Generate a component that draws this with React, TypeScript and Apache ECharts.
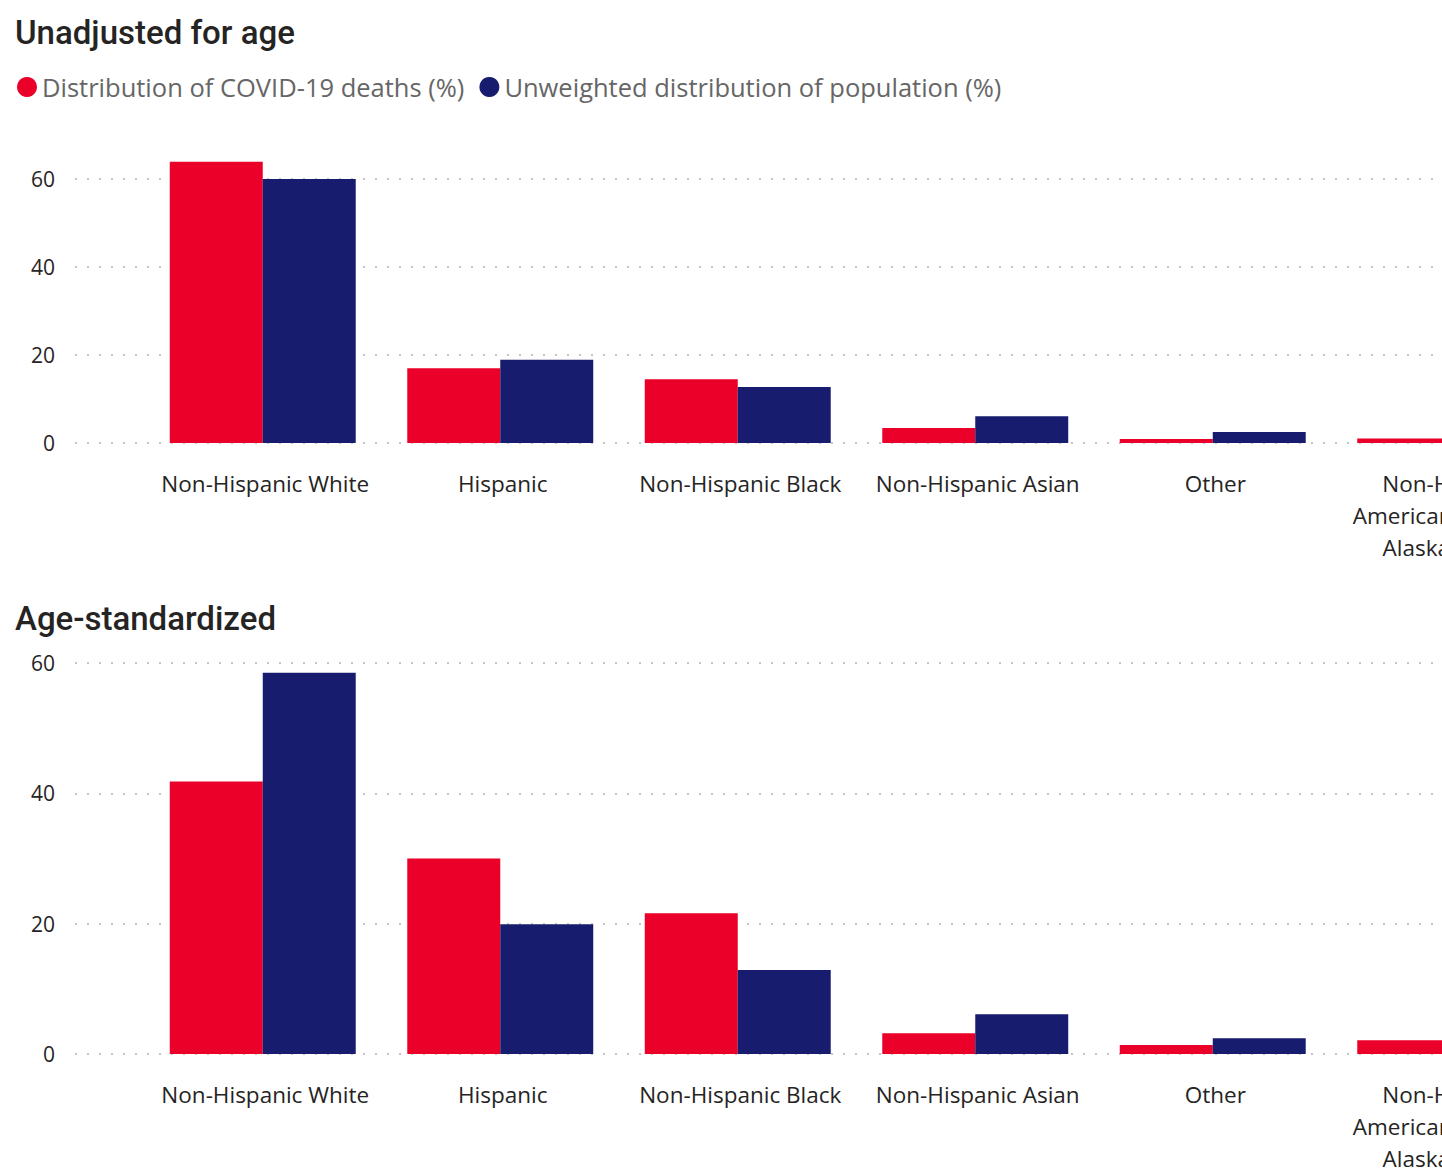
import React, { useEffect, useRef } from "react";
import * as echarts from "echarts";

const categories = [
  "Non-Hispanic White",
  "Hispanic",
  "Non-Hispanic Black",
  "Non-Hispanic Asian",
  "Other",
  "Non-Hispanic American Indian or Alaska Native",
];
const seriesNames = ["Distribution of COVID-19 deaths (%)", "Unweighted distribution of population (%)"];
const unadjustedDeaths = [63.9, 17.0, 14.5, 3.4, 0.9, 1.0];
const unadjustedPopulation = [60.0, 18.9, 12.7, 6.1, 2.5, 0.7];
const standardizedDeaths = [41.8, 30.0, 21.6, 3.2, 1.4, 2.1];
const standardizedPopulation = [58.5, 19.9, 12.9, 6.1, 2.4, 0.7];
const yTicks = [0, 20, 40, 60];
const panelTitles = ["Unadjusted for age", "Age-standardized"];

const RED = "#EA0029";
const NAVY = "#171C6E";
const TEXT = "#252423";
const FONT = "'Open Sans', 'Noto Sans', sans-serif";

function wrapLabel(v: string): string {
  const words = v.split(" ");
  const lines: string[] = [];
  let cur = "";
  for (const w of words) {
    const next = cur ? cur + " " + w : w;
    if (next.length > 20 && cur) {
      lines.push(cur);
      cur = w;
    } else cur = next;
  }
  if (cur) lines.push(cur);
  return lines.join("\n");
}

export default function App() {
  const ref = useRef<HTMLDivElement>(null);
  useEffect(() => {
    if (!ref.current) return;
    const chart = echarts.init(ref.current, undefined, { renderer: "svg" });
    const W = 1640;
    const H = 1170;
    const panels = [
      { top: 179, bottom: H - 443, data: [unadjustedDeaths, unadjustedPopulation] },
      { top: 663, bottom: H - 1054, data: [standardizedDeaths, standardizedPopulation] },
    ];
    const grids: any[] = [];
    const xAxes: any[] = [];
    const yAxes: any[] = [];
    const series: any[] = [];
    panels.forEach((p, i) => {
      grids.push({ left: 75, right: 0, top: p.top, bottom: p.bottom, outerBoundsMode: "none", containLabel: false });
      grids.push({
        left: 144,
        right: W - 144 - 1425,
        top: p.top,
        bottom: p.bottom,
        outerBoundsMode: "none",
        containLabel: false,
      });
      const gA = i * 2;
      const gB = i * 2 + 1;
      xAxes.push({ type: "category", gridIndex: gA, data: [""], show: false });
      xAxes.push({
        type: "category",
        gridIndex: gB,
        data: categories,
        axisLine: { show: false },
        axisTick: { show: false },
        axisLabel: {
          interval: 0,
          margin: 24,
          color: TEXT,
          fontSize: 22.5,
          lineHeight: 32,
          fontFamily: FONT,
          padding: [0, 0, 0, 5],
          formatter: (v: string) => wrapLabel(v),
        },
      });
      yAxes.push({
        type: "value",
        gridIndex: gA,
        min: yTicks[0],
        max: yTicks[yTicks.length - 1],
        interval: 20,
        axisLine: { show: false },
        axisTick: { show: false },
        axisLabel: { color: TEXT, fontSize: 21, fontFamily: FONT, margin: 20 },
        splitLine: { show: true, lineStyle: { color: "#c4c4c4", width: 2, type: [2, 10] } },
      });
      yAxes.push({
        type: "value",
        gridIndex: gB,
        min: yTicks[0],
        max: yTicks[yTicks.length - 1],
        interval: 20,
        show: false,
        splitLine: { show: false },
      });
      p.data.forEach((vals, k) => {
        series.push({
          type: "bar",
          name: seriesNames[k],
          xAxisIndex: gB,
          yAxisIndex: gB,
          data: vals,
          clip: false,
          barGap: "0%",
          barCategoryGap: "21.7%",
          itemStyle: { color: k === 0 ? RED : NAVY },
        });
      });
    });
    const titleStyle = { fontSize: 33, fontWeight: 500, fontFamily: "Roboto, sans-serif", color: TEXT };
    chart.setOption({
      animation: false,
      backgroundColor: "#ffffff",
      title: [
        { text: panelTitles[0], left: 15, top: 16, padding: 0, textStyle: titleStyle },
        { text: panelTitles[1], left: 15, top: 602, padding: 0, textStyle: titleStyle },
      ],
      legend: {
        left: 17,
        top: 74,
        padding: 0,
        icon: "circle",
        itemWidth: 20,
        itemHeight: 20,
        itemGap: 15,
        textStyle: { color: "#666666", fontSize: 25.5, fontFamily: FONT },
        data: seriesNames,
      },
      grid: grids,
      xAxis: xAxes,
      yAxis: yAxes,
      series,
    });
    return () => chart.dispose();
  }, []);
  return (
    <div style={{ position: "absolute", left: 0, top: 0, width: 1442, height: 1170, overflow: "hidden", background: "#fff" }}>
      <div ref={ref} style={{ width: 1640, height: 1170 }} />
    </div>
  );
}
